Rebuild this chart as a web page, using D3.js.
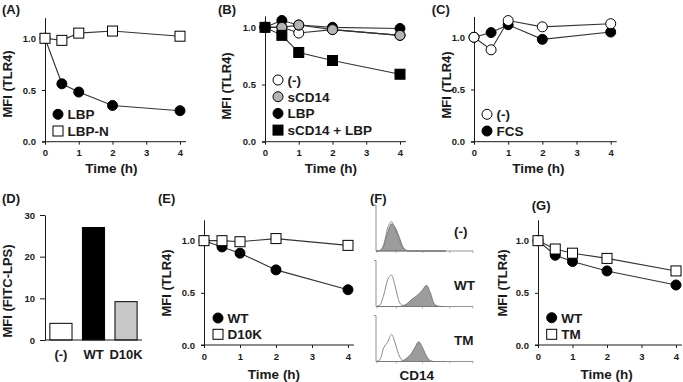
<!DOCTYPE html>
<html><head><meta charset="utf-8">
<script src="https://cdn.jsdelivr.net/npm/d3@7"></script>
<style>
body{margin:0;background:#fff}
svg{display:block;font-family:"Liberation Sans",Arial,sans-serif;font-weight:bold}
</style></head><body>
<svg id="c" width="683" height="382"></svg>
<script>
// ---------- data ----------
const times = [0, 0.5, 1, 2, 4];
const timeTicks = [0, 1, 2, 3, 4];
const mfiTicks = [0, 0.5, 1.0];

// (A)
const aLBP  = [1.00, 0.56, 0.48, 0.35, 0.30];
const aLBPN = [1.00, 0.98, 1.05, 1.07, 1.02];
// (B)
const bNone  = [1.00, 1.00, 0.95, 0.98, 0.93];
const bSCD14 = [1.00, 1.00, 1.02, 0.98, 0.93];
const bLBP   = [1.00, 1.06, 1.02, 1.00, 0.99];
const bBoth  = [1.00, 0.93, 0.78, 0.71, 0.59];
// (C)
const cNone = [1.00, 0.88, 1.16, 1.10, 1.13];
const cFCS  = [1.00, 1.045, 1.12, 0.98, 1.05];
// (D)
const dCategories = ["(-)", "WT", "D10K"];
const dValues = [4.0, 27.0, 9.2];
const dTicks = [0, 10, 20, 30];
// (E)
const eWT   = [1.00, 0.94, 0.88, 0.72, 0.53];
const eD10K = [1.00, 1.00, 0.99, 1.02, 0.955];
// (F) CD14 histograms (arbitrary channel units / counts)
const histBins = [0, 4, 8, 12, 16, 20, 24, 28, 32, 36, 40, 44, 48, 52, 56, 60, 64, 68, 72];
const histTicks = [1, 21, 48, 76, 100];
const fNoneOpen   = [0, 1, 14, 50, 64, 46, 24, 6, 1, 0, 0, 0, 0, 0, 0, 0, 0, 0, 0];
const fNoneFilled = [0, 1, 12, 40, 59, 50, 30, 8, 1, 0, 0, 0, 0, 0, 0, 0, 0, 0, 0];
const fWTOpen     = [0, 3, 25, 58, 68, 42, 10, 2, 1, 1, 0, 0, 0, 0, 0, 0, 0, 0, 0];
const fWTFilled   = [0, 0, 0, 0, 0, 0, 0, 2, 6, 14, 20, 27, 36, 46, 30, 6, 1, 0, 0];
const fTMOpen     = [0, 4, 30, 42, 59, 38, 12, 2, 1, 0, 0, 0, 0, 0, 0, 0, 0, 0, 0];
const fTMFilled   = [0, 0, 0, 0, 0, 0, 0, 2, 8, 16, 30, 43, 30, 12, 2, 0, 0, 0, 0];
const fLabels = ["(-)", "WT", "TM"];
// (G)
const gWT = [1.00, 0.86, 0.80, 0.71, 0.575];
const gTM = [1.00, 0.92, 0.88, 0.83, 0.71];

// ---------- drawing ----------
const svg = d3.select("#c");
const FONT = "Liberation Sans, Arial, sans-serif";
const INK = "#1a1a1a";
const GREY = "#b4b4b4";

function styleAxis(sel, fs) {
  sel.attr("font-family", FONT).attr("font-size", fs).attr("font-weight", "bold");
  sel.selectAll("line,path").attr("stroke", INK).attr("stroke-width", 1);
  sel.selectAll("text").attr("fill", INK);
}

function marker(g, shape, fill, cx, cy) {
  if (shape === "circle") {
    g.append("circle").attr("cx", cx).attr("cy", cy).attr("r", 5)
      .attr("fill", fill).attr("stroke", "#000").attr("stroke-width", 1);
  } else {
    g.append("rect").attr("x", cx - 5).attr("y", cy - 5).attr("width", 10).attr("height", 10)
      .attr("fill", fill).attr("stroke", "#000").attr("stroke-width", 1);
  }
}

function text(t, x, y, fs, anchor, rot) {
  const el = svg.append("text").attr("font-family", FONT).attr("font-weight", "bold")
    .attr("font-size", fs).attr("fill", INK).attr("text-anchor", anchor || "start").text(t);
  if (rot) el.attr("transform", `translate(${x},${y}) rotate(-90)`);
  else el.attr("x", x).attr("y", y);
  return el;
}

function timePanel(o) {
  const g = svg.append("g");
  const x = d3.scaleLinear().domain([0, 4]).range([o.x0, o.x4]);
  const y = d3.scaleLinear().domain([0, o.yMax]).range([o.yb, o.yt]);
  const xa = g.append("g").attr("transform", `translate(0,${o.yb})`)
    .call(d3.axisBottom(x).tickValues(timeTicks).tickFormat(d3.format("d")).tickSize(3).tickPadding(5).tickSizeOuter(0));
  xa.select(".domain").attr("d", `M${o.x0 - 3},0H${o.x4 + 6}`);
  styleAxis(xa, 9.5);
  const ya = g.append("g").attr("transform", `translate(${o.x0},0)`)
    .call(d3.axisLeft(y).tickValues(mfiTicks).tickFormat(d3.format(".1f")).tickSize(3).tickPadding(6).tickSizeOuter(0));
  styleAxis(ya, 9.5);
  const line = d3.line().x(d => x(d[0])).y(d => y(d[1]));
  o.series.forEach(s => {
    g.append("path").attr("d", line(times.map((t, i) => [t, s.values[i]])))
      .attr("fill", "none").attr("stroke", "#333").attr("stroke-width", 1.1);
  });
  o.drawOrder.forEach(k => {
    const s = o.series[k];
    times.forEach((t, i) => marker(g, s.shape, s.fill, x(t), y(s.values[i])));
  });
  o.series.forEach((s, i) => {
    const ly = o.legY + i * o.legDy;
    marker(g, s.shape, s.fill, o.legX, ly);
    text(s.name, o.legX + 9.5, ly + 5, 13.5);
  });
  text("Time (h)", o.titleX, o.titleY, 13.5, "middle");
  text("MFI (TLR4)", o.ylabX, o.ylabY, 13, "middle", true);
}

timePanel({x0: 45, x4: 180, yb: 141.7, yt: 17.6, yMax: 1.2,
  series: [{name: "LBP", values: aLBP, shape: "circle", fill: "#000"},
           {name: "LBP-N", values: aLBPN, shape: "square", fill: "#fff"}],
  drawOrder: [0, 1], legX: 58, legY: 114.3, legDy: 16.7,
  titleX: 111.5, titleY: 173, ylabX: 12, ylabY: 84});

timePanel({x0: 265, x4: 400, yb: 141.7, yt: 15.9, yMax: 1.1,
  series: [{name: "(-)", values: bNone, shape: "circle", fill: "#fff"},
           {name: "sCD14", values: bSCD14, shape: "circle", fill: GREY},
           {name: "LBP", values: bLBP, shape: "circle", fill: "#000"},
           {name: "sCD14 + LBP", values: bBoth, shape: "square", fill: "#000"}],
  drawOrder: [0, 2, 1, 3], legX: 278, legY: 80, legDy: 16.7,
  titleX: 331, titleY: 173, ylabX: 230.5, ylabY: 86});

timePanel({x0: 474, x4: 610.7, yb: 141.7, yt: 16.4, yMax: 1.2,
  series: [{name: "(-)", values: cNone, shape: "circle", fill: "#fff"},
           {name: "FCS", values: cFCS, shape: "circle", fill: "#000"}],
  drawOrder: [1, 0], legX: 487, legY: 114.3, legDy: 16.7,
  titleX: 538.3, titleY: 173, ylabX: 450.5, ylabY: 85});

timePanel({x0: 204, x4: 348, yb: 345, yt: 219.8, yMax: 1.2,
  series: [{name: "WT", values: eWT, shape: "circle", fill: "#000"},
           {name: "D10K", values: eD10K, shape: "square", fill: "#fff"}],
  drawOrder: [0, 1], legX: 218, legY: 318, legDy: 16.3,
  titleX: 274, titleY: 379, ylabX: 170.5, ylabY: 283});

timePanel({x0: 538, x4: 676, yb: 345, yt: 219.8, yMax: 1.2,
  series: [{name: "WT", values: gWT, shape: "circle", fill: "#000"},
           {name: "TM", values: gTM, shape: "square", fill: "#fff"}],
  drawOrder: [0, 1], legX: 551.7, legY: 317.7, legDy: 16.6,
  titleX: 606.7, titleY: 379, ylabX: 507, ylabY: 283});

// (D) bar chart
(function () {
  const g = svg.append("g");
  const x = d3.scaleBand().domain(dCategories).range([45, 142]).paddingInner(0.32).paddingOuter(0.15);
  const y = d3.scaleLinear().domain([0, 30]).range([340, 215]);
  const fills = ["#fff", "#000", "#c8c8c8"];
  g.selectAll("rect").data(dValues).join("rect")
    .attr("x", (d, i) => x(dCategories[i])).attr("width", x.bandwidth())
    .attr("y", d => y(d)).attr("height", d => 340 - y(d))
    .attr("fill", (d, i) => fills[i]).attr("stroke", "#000").attr("stroke-width", 1);
  const ya = g.append("g").attr("transform", "translate(45,0)")
    .call(d3.axisLeft(y).tickValues(dTicks).tickSize(5).tickPadding(5).tickSizeOuter(0));
  styleAxis(ya, 9.5);
  const xa = g.append("g").attr("transform", "translate(0,340)")
    .call(d3.axisBottom(x).tickSize(0).tickPadding(10));
  xa.select(".domain").attr("d", "M45,0H142");
  styleAxis(xa, 13);
  xa.selectAll("text").attr("dy", null).attr("y", 19);
  text("MFI (FITC-LPS)", 12, 291, 13, "middle", true);
})();

// (F) histograms
(function () {
  const x = d3.scaleLinear().domain([0, 100]).range([376, 473]);
  const panels = [
    {base: 251, open: fNoneOpen, filled: fNoneFilled, label: fLabels[0], ly: 236},
    {base: 306.5, open: fWTOpen, filled: fWTFilled, label: fLabels[1], ly: 290},
    {base: 361.5, open: fTMOpen, filled: fTMFilled, label: fLabels[2], ly: 345}
  ];
  panels.forEach(p => {
    const g = svg.append("g");
    const y = d3.scaleLinear().domain([0, 100]).range([p.base, p.base - 46]);
    const area = d3.area().x((d, i) => x(histBins[i])).y0(p.base).y1(d => y(d)).curve(d3.curveMonotoneX);
    const line = d3.line().x((d, i) => x(histBins[i])).y(d => y(d)).curve(d3.curveMonotoneX);
    g.append("path").attr("d", area(p.filled)).attr("fill", "#9c9c9c").attr("stroke", "#6a6a6a").attr("stroke-width", 0.8);
    g.append("path").attr("d", line(p.open)).attr("fill", "none").attr("stroke", "#8a8a8a").attr("stroke-width", 1);
    g.append("line").attr("x1", x(0)).attr("x2", x(100)).attr("y1", p.base).attr("y2", p.base).attr("stroke", "#777").attr("stroke-width", 0.8);
    g.append("line").attr("x1", x(0)).attr("x2", x(0)).attr("y1", p.base).attr("y2", y(100)).attr("stroke", "#777").attr("stroke-width", 0.8);
    g.append("line").attr("x1", x(0) - 2).attr("x2", x(0)).attr("y1", y(100)).attr("y2", y(100)).attr("stroke", "#777").attr("stroke-width", 0.8);
    histTicks.forEach(t => g.append("line").attr("x1", x(t)).attr("x2", x(t)).attr("y1", p.base).attr("y2", p.base + 2).attr("stroke", "#999").attr("stroke-width", 0.8));
    text(p.label, 454, p.ly, 13.5);
  });
  text("CD14", 416.7, 380, 13.5, "middle");
})();

// panel letters
[["(A)", 2, 13.5], ["(B)", 218, 13.5], ["(C)", 431.7, 13.5], ["(D)", 2, 203],
 ["(E)", 158, 203], ["(F)", 370, 203], ["(G)", 531.7, 210]].forEach(d => text(d[0], d[1], d[2], 13));
</script>
</body></html>
